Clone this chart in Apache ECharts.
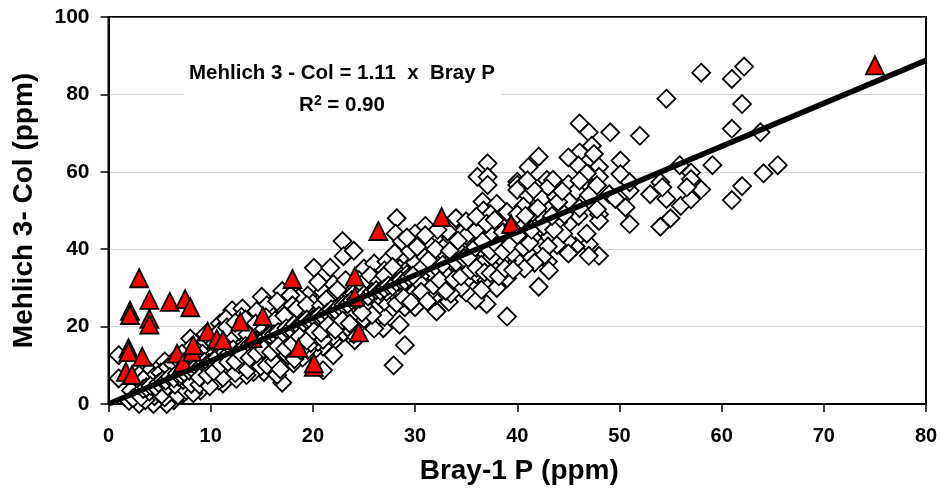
<!DOCTYPE html>
<html>
<head>
<meta charset="utf-8">
<title>Mehlich 3 vs Bray-1 P</title>
<script src="https://cdn.jsdelivr.net/npm/echarts@6/dist/echarts.min.js"></script>
<style>
  html, body { margin: 0; padding: 0; background: #fff; }
  #chart { width: 941px; height: 491px; }
</style>
</head>
<body>
<div id="chart"></div>
<script>
// values: [Bray-1 P, Mehlich 3 - Col]
const outerPoints = [
  [58,85.6],[62.2,87.2],[61,84],[62,77.5],[54.6,78.9],[61,71.1],[63.8,70.2],[49.1,70.2],[52,69.3],[46.1,72.5],
  [47,70.2],[47.3,66.7],[46.1,65],[45,63.7],[47.5,64.6],[50.1,62.9],[50.1,59.4],[48,61.3],[47,59.4],[48,58.7],
  [46,61.6],[45,56.8],[45.8,55.1],[47,54],[45,52.5],[49,54.2],[49.6,53],[51,55.1],[51,57.3],[50.6,50.8],
  [48,49],[48,47.3],[46,48.6],[45,46.5],[51,46.5],[54,45.8],[55,48],[56,51.2],[57,52.9],[58,55.4],
  [54.6,53],[53,54.2],[54,57.3],[54.2,56],[55.9,61.7],[57,59.8],[57,58.1],[56.6,56],[59.1,61.7],[64.1,59.6],
  [65.5,61.7],[62,56.3],[61,52.7],[47,41.3],[48,38.3],[47,38.3],[45.7,40.7],[45,39.2],[44.9,42.2]
];
const upperBand = [
  [37.1,62.2],[36.1,58.7],[37.1,58.7],[37.1,56.6],[42.1,63.9],[41.1,61.2],[40,57.4],[40,56.6],[40,55.3],[41.1,53.8],
  [42.9,57.9],[43.5,57.9],[46.8,59.6],[46.1,57.7],[47.8,56.5],[42.9,55.7],[43.1,51.4],[42.9,51.8],[46.1,50.6],[47.8,50.3],
  [42.1,47.1],[42,44.5],[43.1,43.2],[43.9,41.1],[45,38.9],[43,40.7],[43,36.8],[43.1,34.5],[42.1,30.3],[39,22.6],
  [40,37.6],[39,32.5],[40,40.7],[38.8,40.7],[37,25.8],[35.9,26.9],[35,28.8],[33.3,26.4],[32.1,23.9],[36.6,52.3],
  [38,51.7],[38.3,48],[36.7,50],[40.6,51],[34,48],[28.2,48],[28.1,44],[22.9,42.1],[23,38.2],[24,39.6],
  [20.1,35.2],[21.7,35.2],[25,35],[26,36.3],[27.2,36.8],[26.9,19.6],[29,15.2],[26,21.7],[24.1,16.5],[22,16.1],
  [22,20],[23.5,25],[27.9,10],[21,8.7],[42.5,48],[41,46],[39.5,44],[41.5,43],[38.5,46],[37.5,45],
  [36.5,47],[35.5,46],[34.5,44],[35,41.5],[36,43],[37,41],[38,39],[37,36],[36,38],[35,36],
  [34,38.5],[33,41],[32,43],[31,46],[30.5,42],[31.5,39],[33,36],[34,33.5],[35,32],[36,33.5],
  [37,32],[38,35],[39,37],[38,30],[36.5,29.5],[34.5,30],[33,31],[32,33.5],[31,36],[30,38.5],
  [29,41],[28,39],[29,37],[30,34],[31,31.5],[32,28],[30.5,27.5],[29,30],[28,33],[27,30.5],
  [28,27],[29,25],[27.5,24],[26,27],[25,30],[26,32.5],[27,34.5],[24.5,32],[25.5,24.5],[24,23],
  [23,28],[22,26],[21,29],[22,31],[23.5,30],[20.5,31.5],[19.5,28],[20.5,24],[21.5,22.5],[23,21],
  [24.5,20.5],[25,27],[27.5,28],[30,30],[31.5,34],[33,33.5],[34.5,35],[33.5,43],[35.5,39],[36.5,40],
  [38.5,42],[39,43],[40.5,42.5],[41,39],[42.5,38],[41.7,36.5],[40.7,35],[44,47],[44.5,44],[44,50],
  [42.4,53],[43.8,53.5],[41.5,49.5],[37.4,49],[37.5,43.5],[32.5,38],[30,25],[28.5,20.5],[27,22.5],[46.8,44]
];
const lowerBand = [
  [15,27.7],[17,29.2],[18.6,27.5],[17.8,28.1],[12.1,24.2],[13.1,24.7],[10.9,20.8],[8,16.9],[1,12.6],[1,6.6],
  [17,5.5],[22,12.6],[21,14.8],[26,19.5],[18.1,10.5],[17.1,13.5],[15.2,8.3],[14.2,8.3],[11.2,5.3],[10,5.3],
  [7.3,2.7],[6.4,1],[5.7,0],[4.4,0],[2,0.8],[3,0],[2.6,2],[3.5,3],[4.5,2],[5,4.5],
  [6,3],[3,5],[4,6],[5,7],[6,6],[7,5],[8,4],[9,3.5],[8,6.5],[7,8],
  [6,9],[5,9.5],[4,8.5],[3,7.5],[2.5,5.5],[7.5,10],[8.5,8],[9.5,6],[10.5,7.5],[9.5,9],
  [8.8,10.5],[7.9,12],[6.5,11.5],[5.5,11],[9.6,12],[10.5,10],[11.5,8],[12.5,6.5],[13,9],[12,10.5],
  [11,12],[10,14],[9,15],[8.5,13.5],[11,15],[12,13],[13,11.5],[14,10],[15,11],[16,9.5],
  [16,12],[15,13.5],[14,13],[13,14.5],[12,16],[11,17.5],[10,17],[9.5,18],[13,17.5],[14,16],
  [15,15.5],[16,14.5],[17,11],[18,13],[17,16],[16,17.5],[15,18],[14,19.5],[13,20.5],[12,19],
  [11.5,22],[14,22.5],[15,21],[16,20],[17,19],[18,17.5],[19,15],[20,13.5],[19,12],[19.5,17],
  [20,19.5],[19,21],[18,23],[17,24.5],[16,23],[15.5,25.5],[16.5,26.5],[18,25.5],[19,24],[20,26],
  [21,18],[22,17.5],[21,21],[22.5,23],[23,18.5],[19.7,22.5],[14.5,24],[13,22.5],[10,11],[11,9],
  [12,11.5],[13.5,7.5],[14.5,11.5],[15.5,16.5],[16.5,7.5],[17.5,21],[18.5,19.5],[20.5,16],[24,18],[25,22],
  [6.8,6.5],[7.7,7.5],[8.7,6],[9.8,8],[10.8,6],[5.4,5.5],[4.7,5],[3.6,1],[2.2,3.5],[5.7,7.5],
  [6.7,9.8],[7.2,13],[8.2,15],[9.2,13],[9,11.5],[10.5,13],[11.5,14.5],[12.5,15],[13.5,12.5],[14.5,14.5],
  [15.5,12.5],[16.5,10.5],[17.5,15],[18.5,16],[19.5,14],[20.5,20],[21.5,24],[22.5,27],[23.2,32],[21.8,28],
  [24.2,24.5],[25.5,28.5],[26.5,25.5],[27,26.5],[28.5,29],[29.5,32],[30.5,33],[31.5,29],[32.5,30],[33.5,28.5],
  [28.5,35],[29.5,35.5],[30,36.5],[31,38],[32,35.5],[33,38.5],[34,40.5],[35,43.5],[36,45],[36.5,36],
  [38.5,37.5],[39.5,39],[37.5,38],[33.5,37],[31.5,41],[30,44],[28.7,42],[29.5,39.5],[27.5,32],[26.5,30]
];
// the dark core of the cloud, closely stacked marks
const coreLow = [
  [2.4,1.5],[3.2,1.8],[4,3.2],[4.9,3],[5.5,1.7],[6.3,3.8],[5.2,2.4],[6.8,2.2],[7.6,3.5],[8.3,2.8],
  [3.8,4.4],[4.4,7],[3.4,6.3],[5.8,4.6],[6.5,5],[7.3,6.2],[8.1,5.2],[8.9,5],[9.3,7],[9.9,4.6],
  [6.2,7.3],[6.9,7],[7.5,8.8],[8.3,9.4],[9,8.3],[10,9.6],[10.6,8.6],[11.2,6.8],[11.8,9.5],[12.4,8],
  [5.1,8.1],[5.8,9.5],[6.3,10.4],[7,10.9],[7.7,11.2],[8.6,11.7],[9.3,10.2],[10.2,12.5],[10.9,11],[11.5,12.9],
  [12.3,12.2],[12.8,10.2],[13.6,8.8],[14.2,11],[14.9,9.7],[15.5,10],[16.2,11],[16.8,9],[13.4,13.6],[14.2,14.6],
  [12.6,13.8],[13.2,15.8],[14,17.6],[14.8,16.8],[15.4,14.5],[16.2,15.6],[16.8,13.8],[17.5,12.6],[18.2,11.6],[18.8,13.8],
  [11.4,16.4],[12.2,17.6],[12.8,18.9],[13.6,18],[10.4,15.6],[10.8,18.6],[11.6,19.8],[12.4,21],[13.4,21.8],[14.4,20.8],
  [15.2,19.4],[16,18.8],[16.8,20.6],[17.4,18],[18,19],[18.6,21.6],[19.2,19],[19.8,15.8],[20.4,17.6],[21,16.6],
  [15.4,22.4],[16.3,21.6],[17.2,22.8],[18.4,24.6],[19.4,25.6],[20.2,23],[20.8,25.4],[21.4,19.6],[22.2,21.8],[22.8,24.6],
  [23.6,22.4],[24.4,26],[25,25.2],[25.8,23],[26.4,28],[27.2,29],[23.4,19.8],[24.8,23.6],[21.3,27],[22.4,29.5]
];
const coreHigh = [
  [24,28.6],[24.8,31],[25.6,33.2],[26.4,31.4],[27,33.2],[27.8,35.4],[28.4,31.5],[29.2,33.5],[29.8,28.5],[30.4,31.5],
  [28.2,26],[28.9,27.5],[29.6,26.3],[30.6,29],[31.2,26.5],[31.8,30.6],[32.4,32],[33,29.2],[33.8,32.2],[34.5,33],
  [30.6,35],[31.3,37.2],[32,40],[32.7,36],[33.4,39.6],[34,36.6],[34.8,37.6],[35.4,34.6],[36,35.2],[36.8,34],
  [37.4,33.8],[38.2,33],[38.8,35],[39.6,34.6],[35.2,37.8],[35.9,40.5],[36.6,42],[37.3,39.6],[38,41],[38.6,39.4],
  [39.3,41.2],[40,43.6],[40.6,40.4],[41.2,41.6],[34.2,42.2],[33.2,44.6],[32.2,45],[31,43.6],[30.2,40.6],[29.2,43],
  [35,47.2],[36,48.4],[37,46.6],[37.8,47.6],[38.6,44.4],[39.6,46],[40.4,47.6],[41.4,45],[42.6,46],[43.6,45],
  [39,49.6],[40,49],[40.8,48.6],[42,50.6],[43.4,48.6],[44,52.2],[44.6,49],[44.4,55],[41.6,55.4],[41,57.8]
];
// tightly overlapping marks either side of the fitted line, below x = 30
const coreStack = [
  [3.4,3.9],[3.7,4.3],[4.1,4.7],[4.6,4.4],[4.9,5.4],[5.3,6.2],[5.6,6],[6,7],[6.4,6.6],[6.7,7.9],
  [7.1,7.6],[7.4,8.2],[7.9,8.6],[8.2,9.1],[8.6,9.6],[9,9.6],[9.4,10.9],[9.8,10.6],[10.2,11.1],[10.6,11.9],
  [11,11.1],[11.4,13.4],[11.8,13.1],[12.2,14.1],[12.6,13.2],[13,13.9],[13.4,15],[13.8,15.2],[14.2,15.9],[14.6,15.5],
  [15,16.4],[15.4,17.2],[15.8,17.8],[16.2,18],[16.6,18.6],[17,17.9],[17.4,19.6],[17.8,19.4],[18.2,20.6],[18.6,20.2],
  [19,20.8],[19.4,21.8],[19.8,21.6],[20.2,22.2],[20.6,22.8],[21,22.6],[21.4,23.6],[21.8,24.4],[22.2,24.2],[22.6,25.2],
  [23,25.6],[23.4,25.8],[23.8,26.8],[24.2,27],[24.6,27.2],[25,28.2],[25.4,27.8],[25.8,29],[26.2,29.4],[26.6,29.2],
  [27,29.8],[27.4,30.6],[27.8,30.4],[28.2,31.4],[28.6,32],[29,31.8],[29.4,32.8],[29.8,33.2],[8.9,6.9],[9.7,7.5],
  [10.3,8.4],[11,10.2],[11.7,10.8],[12.4,11],[13.1,12.7],[13.8,11.9],[14.5,13],[15.2,14.2],[15.9,13.4],[16.6,15],
  [17.3,14.3],[18,15.6],[18.7,17.4],[19.4,16.4],[20.1,18.8],[20.8,18.4],[21.5,20.4],[22.2,19.2],[22.9,21.6],[23.6,20.8]
];
const triangles = [
  [3,32.5],[4,26.9],[2.1,24.1],[2.1,23],[4,22],[4,20.5],[6,26.4],[7.5,27.1],[8,25],[1.95,14.4],
  [1.95,13.4],[3.3,12.2],[1.7,8.3],[2.3,7.5],[6.7,13],[7.3,10.7],[8.2,13.5],[8.3,15.2],[9.7,18.7],[10.6,16.8],
  [11.2,16.5],[12.9,21.3],[14.1,17],[15.1,22.7],[18,32.3],[18.6,14.5],[20.1,9.6],[20.1,10.5],[24.1,32.9],[24.1,27.7],
  [24.5,18.5],[26.4,44.7],[32.6,48.3],[39.4,46.5],[75,87.5]
];
const trendLine = [[0,0],[80,88.8]];
const xTicks = { min: 0, max: 80, interval: 10 };
const yTicks = { min: 0, max: 100, interval: 20 };
const equation = 'Mehlich 3 - Col = 1.11  x  Bray P';

const chart = echarts.init(document.getElementById('chart'));
const font = 'Liberation Sans';

const axisBase = {
  axisLine: { show: true, onZero: false, lineStyle: { color: '#000', width: 2 } },
  axisTick: { show: true, length: 8, lineStyle: { color: '#000', width: 1.5 } },
  nameLocation: 'middle'
};
const nameStyle = { color: '#000', fontFamily: font, fontWeight: 'bold', fontSize: 28 };

chart.setOption({
  animation: false,
  backgroundColor: '#fff',
  grid: { left: 108.5, right: 15, top: 17, bottom: 87, show: true, borderColor: '#000', borderWidth: 2 },
  xAxis: Object.assign({}, axisBase, xTicks, {
    type: 'value', name: 'Bray-1 P (ppm)', nameGap: 53,
    nameTextStyle: Object.assign({}, nameStyle, { padding: [0, 0, 0, 4] }),
    splitLine: { show: false },
    axisLabel: { color: '#000', fontFamily: font, fontWeight: 'bold', fontSize: 20, margin: 22 }
  }),
  yAxis: Object.assign({}, axisBase, yTicks, {
    type: 'value', name: 'Mehlich 3- Col (ppm)', nameGap: 70,
    nameTextStyle: nameStyle,
    splitLine: { show: true, lineStyle: { color: '#aaa', width: 1, type: 'dotted' } },
    axisLabel: { color: '#000', fontFamily: font, fontWeight: 'bold', fontSize: 21, margin: 19 }
  }),
  graphic: [
    { type: 'rect', z: 1, shape: { x: 184, y: 55, width: 317, height: 60 }, style: { fill: '#fff' } },
    { type: 'text', z: 3, x: 342, y: 73, style: { text: equation, fill: '#000', align: 'center', verticalAlign: 'middle', font: 'bold 20.5px "Liberation Sans"' } },
    { type: 'text', z: 3, x: 342, y: 105, style: { text: 'R{s|2} = 0.90', fill: '#000', align: 'center', verticalAlign: 'middle', font: 'bold 20.5px "Liberation Sans"',
      rich: { s: { font: 'bold 14px "Liberation Sans"', verticalAlign: 'top', padding: [0, 0, 8, 0] } } } }
  ],
  series: [
    {
      type: 'scatter', name: 'soils', clip: false, z: 2,
      data: outerPoints.concat(upperBand, lowerBand, coreLow, coreHigh, coreStack),
      symbol: 'diamond', symbolSize: [18, 18], large: false,
      itemStyle: { color: '#fff', borderColor: '#000', borderWidth: 1.8, opacity: 1 }
    },
    {
      type: 'scatter', name: 'red', clip: false, z: 3,
      data: triangles,
      symbol: 'triangle', symbolSize: [18, 18],
      itemStyle: { color: '#ff0000', borderColor: '#000', borderWidth: 1.8, opacity: 1 }
    },
    {
      type: 'line', name: 'fit', z: 4, data: trendLine, showSymbol: false, symbol: 'none',
      lineStyle: { color: '#000', width: 5.5, cap: 'butt' }
    }
  ]
});
</script>
</body>
</html>
